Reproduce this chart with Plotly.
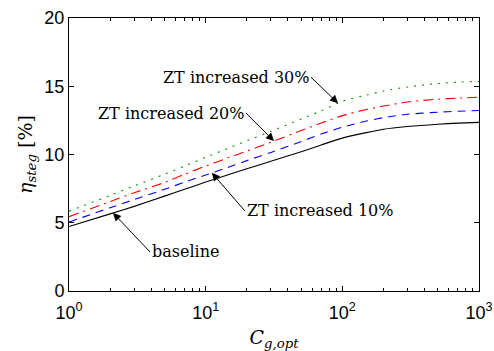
import numpy as np
import plotly.graph_objects as go

# ---- data ----
C_g_opt = [1, 2, 3, 5, 7, 10, 15, 20, 30, 50, 70, 100, 150, 200, 300, 500, 700, 1000]
baseline = [4.72, 5.65, 6.2, 6.95, 7.45, 7.98, 8.55, 8.95, 9.5, 10.2, 10.7, 11.2, 11.6, 11.85, 12.05, 12.22, 12.3, 12.35]
zt_10 = [5.05, 6.1, 6.7, 7.45, 7.97, 8.5, 9.1, 9.55, 10.15, 10.95, 11.5, 12.0, 12.45, 12.7, 12.95, 13.1, 13.17, 13.22]
zt_20 = [5.45, 6.55, 7.2, 7.95, 8.55, 9.15, 9.8, 10.25, 10.9, 11.75, 12.3, 12.85, 13.3, 13.55, 13.85, 14.05, 14.13, 14.2]
zt_30 = [5.85, 7.0, 7.7, 8.55, 9.15, 9.8, 10.5, 11.0, 11.7, 12.6, 13.2, 13.9, 14.35, 14.65, 14.95, 15.2, 15.3, 15.35]

x_ticks = [1, 10, 100, 1000]
x_ticktext = ['10<sup>%d</sup>' % k for k in range(4)]
y_ticks = [0, 5, 10, 15, 20]
minor_x = [m * 10 ** d for d in range(3) for m in range(2, 10)]

series = [
    ("baseline", baseline, "black", "solid"),
    ("ZT increased 10%", zt_10, "rgb(0,0,255)", "8px,6px"),
    ("ZT increased 20%", zt_20, "rgb(255,0,0)", "10px,5px,2px,5px"),
    ("ZT increased 30%", zt_30, "rgb(0,150,0)", "2px,6px"),
]

fig = go.Figure()
for name, ys, col, dash in series:
    fig.add_trace(go.Scatter(
        x=C_g_opt, y=ys, mode="lines", name=name,
        line=dict(color=col, width=1.1, dash=dash, shape="spline", smoothing=0.6),
        showlegend=False,
    ))

lx = np.log10(C_g_opt)

def tip(c, ys):
    return np.log10(c), float(np.interp(np.log10(c), lx, ys))

serif = "DejaVu Serif"
sans = "Liberation Sans"
ann = [
    ("ZT increased 30%", 93, zt_30, -27, -26, "right"),
    ("ZT increased 20%", 31.6, zt_20, -28, -28, "right"),
    ("ZT increased 10%", 11.1, zt_10, 33, 38, "left"),
    ("baseline", 2.1, baseline, 37, 39, "left"),
]
for text, c, ys, ax, ay, xa in ann:
    tx, ty = tip(c, ys)
    fig.add_annotation(
        x=tx, y=ty, xref="x", yref="y", text=text, showarrow=True,
        ax=ax, ay=ay, xanchor=xa, yanchor="middle",
        arrowhead=2, arrowsize=1.6, arrowwidth=1, arrowcolor="black",
        font=dict(family=serif, size=16, color="black"),
    )

fig.update_layout(
    template="none",
    width=494, height=351,
    margin=dict(l=69, r=15, t=18, b=60, pad=0),
    paper_bgcolor="white", plot_bgcolor="white",
    font=dict(family=sans, color="black"),
    xaxis=dict(
        type="log", range=[0, 3], automargin=False,
        tickvals=x_ticks, ticktext=x_ticktext,
        ticks="inside", ticklen=5, tickcolor="black", ticklabelstandoff=5,
        showline=True, linecolor="black", linewidth=1, mirror="allticks",
        showgrid=False, zeroline=False,
        minor=dict(tickvals=minor_x, ticks="inside", ticklen=3, tickcolor="black", showgrid=False),
        tickfont=dict(family=sans, size=18, color="black"),
        title=dict(text="<i>C</i><sub><i>g,opt</i></sub>",
                   font=dict(family=serif, size=19, color="black"), standoff=10),
    ),
    yaxis=dict(
        range=[0, 20], tickvals=y_ticks, automargin=False,
        ticks="inside", ticklen=5, tickcolor="black",
        showline=True, linecolor="black", linewidth=1, mirror="allticks",
        showgrid=False, zeroline=False,
        tickfont=dict(family=sans, size=18, color="black"),
        title=dict(text="<i>η</i><sub><i>steg</i></sub> [%]",
                   font=dict(family=serif, size=19, color="black"), standoff=6),
    ),
)

fig.write_html("out.html", config={"displayModeBar": False},
               post_script="document.body.style.margin='0';")
